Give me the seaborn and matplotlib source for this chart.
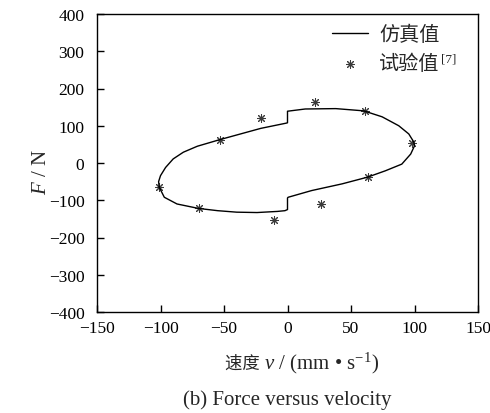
import matplotlib
matplotlib.use("Agg")
import matplotlib.pyplot as plt
import seaborn as sns
import pandas as pd
from matplotlib.offsetbox import TextArea, HPacker, AnchoredOffsetbox

# Simulated loop (upper branch left->right, lower branch right->left)
v_sim = [-101, -101.5, -100, -96, -90, -82, -71, -53, -37, -21, -1, 0, 0, 14, 38, 60,
         74.5, 87.6, 95.5, 99.5, 100, 97, 90, 77, 63, 43, 19, 0.5, 0, 0, -2, -8,
         -24, -40, -55, -70, -87, -97, -101]
F_sim = [-65, -50, -34, -12, 11, 29, 45, 63, 78, 93, 107, 108, 139, 145, 146, 140,
         124, 100, 78, 56, 46, 24, -3, -21, -38, -56, -74, -92, -94, -125, -128, -130,
         -133, -132, -128, -122, -110, -92, -65]

# Experimental values
v_exp = [-101, -70, -53, -21, -10.5, 21.5, 26, 61, 63, 98]
F_exp = [-65, -121, 62, 121, -154, 163, -109, 139, -37, 54]

x_ticks = [-150, -100, -50, 0, 50, 100, 150]
y_ticks = [-400, -300, -200, -100, 0, 100, 200, 300, 400]

label_sim = "仿真值"
label_exp = "试验值"
label_exp_ref = "[7]"
xlabel_cn = "速度 "
xlabel_rest = "$\\mathit{v}$ / (mm • s$^{-1}$)"
ylabel = "$\\mathit{F}$ / N"
caption = "(b) Force versus velocity"

sns.set_style("ticks")
plt.rcParams["font.family"] = ["Liberation Serif", "Noto Sans CJK SC", "DejaVu Sans"]
plt.rcParams["mathtext.fontset"] = "custom"
plt.rcParams["mathtext.rm"] = "Liberation Serif"
plt.rcParams["mathtext.it"] = "Liberation Serif:italic"
plt.rcParams["mathtext.bf"] = "Liberation Serif:bold"

df_sim = pd.DataFrame({"v": v_sim, "F": F_sim})
df_exp = pd.DataFrame({"v": v_exp, "F": F_exp})

fig = plt.figure(figsize=(4.9, 4.14), dpi=100)
ax = fig.add_axes([97 / 490, 1 - 313 / 414, (478 - 97) / 490, (313 - 15) / 414])

sns.lineplot(data=df_sim, x="v", y="F", sort=False, estimator=None, ax=ax,
             color="black", linewidth=1.0, label=label_sim)
sns.scatterplot(data=df_exp, x="v", y="F", ax=ax, marker=(8, 2, 0), s=32,
                color="#3a3a3a", linewidth=0.75, edgecolor="#3a3a3a", label=label_exp)

ax.set_xlim(-150, 150)
ax.set_ylim(-400, 400)
ax.set_xticks(x_ticks)
ax.set_yticks(y_ticks)
ax.set_xticklabels([str(t).replace("-", "\u2212") for t in x_ticks])
ax.set_yticklabels([str(t).replace("-", "\u2212") for t in y_ticks])
ax.tick_params(direction="in", length=5, width=1, labelsize=12.5,
               top=False, right=False, colors="black")
ax.tick_params(axis="x", pad=5.5)
ax.tick_params(axis="y", pad=9)
for sp in ax.spines.values():
    sp.set_visible(True)
    sp.set_linewidth(1.0)
    sp.set_color("black")

ax.set_xlabel("")
ax.set_ylabel(ylabel, fontsize=15)
ax.yaxis.set_label_coords((51 - 97) / 381, (313 - 172) / 298)

# x label assembled from a CJK part and a mathtext part
t1 = TextArea(xlabel_cn, textprops=dict(fontsize=12.5, family=["Noto Sans CJK SC"]))
t2 = TextArea(xlabel_rest, textprops=dict(fontsize=15))
box = HPacker(children=[t1, t2], align="baseline", pad=0, sep=0)
anch = AnchoredOffsetbox(loc="center", child=box, bbox_to_anchor=(302 / 490, 1 - 363 / 414),
                         bbox_transform=fig.transFigure, frameon=False, pad=0, borderpad=0)
fig.add_artist(anch)

leg = ax.legend(loc="upper left", bbox_to_anchor=((332 - 97) / 381, (313 - 27) / 298),
                frameon=False, fontsize=14.5, handlelength=1.8,
                handletextpad=0.55, labelspacing=0.45, borderaxespad=0, borderpad=0)

fig.text(287 / 490, 1 - 400 / 414, caption, ha="center", va="center", fontsize=15)

fig.canvas.draw()
bb = leg.get_texts()[1].get_window_extent()
fig.text((bb.x1 + 1) / 490, (bb.y1 + 2) / 414, label_exp_ref, ha="left", va="top", fontsize=9.5)

fig.savefig("out.png", dpi=100)
